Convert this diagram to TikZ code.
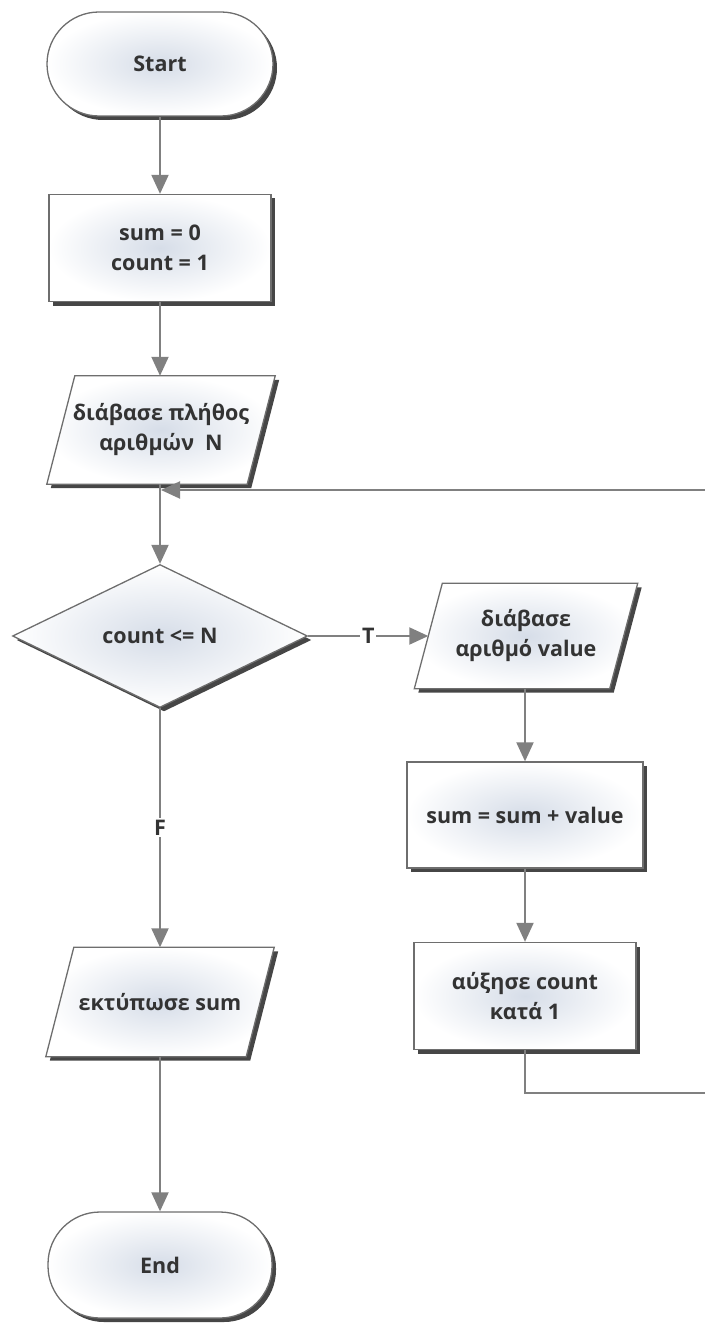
\documentclass[tikz,border=0pt]{standalone}
\usepackage{fontspec}
\setmainfont{Open Sans}
\usetikzlibrary{shapes.geometric,arrows.meta,shadows,backgrounds}

\definecolor{edge}{HTML}{6E6E6E}
\definecolor{wire}{HTML}{808080}
\definecolor{core}{HTML}{D6DDE8}
\definecolor{ink}{HTML}{333333}

\begin{document}
\begin{tikzpicture}[x=1pt,y=-1pt,
  txt/.style={text=ink, font=\fontsize{21.5}{30}\selectfont\bfseries},
  skin/.style={draw=edge, line width=1.3pt, shading=radial,
    inner color=core, outer color=white,
    drop shadow={shadow xshift=4pt, shadow yshift=-4pt,
      fill=black!85, opacity=0.85}},
  base/.style={txt, skin, align=center, inner sep=0pt},
  terminal/.style={base, rectangle, rounded corners=52pt,
    minimum width=226pt, minimum height=104pt},
  process/.style={base, rectangle, minimum height=107pt},
  % text holder of a data box; its slanted outline is drawn behind it
  io/.style={txt, align=center, inner sep=0pt, rectangle,
    minimum width=200pt, minimum height=108pt},
  decision/.style={base, diamond, aspect=2.06,
    minimum width=295pt, minimum height=143pt},
  wireline/.style={draw=wire, line width=2pt},
  flow/.style={wireline, -{Triangle[length=19pt,width=17pt]}},
  lbl/.style={txt, fill=white, inner sep=2pt}
]
  \useasboundingbox (0,0) rectangle (704,1324);

  % nodes
  \node[terminal] (start) at (160,64) {Start};
  \node[process, minimum width=222pt] (init) at (160,248) {sum = 0\\count = 1};
  \node[io] (readn) at (161,430) {διάβασε πλήθος\\αριθμών~~N};
  \node[decision] (dec) at (160,636) {count <= N};
  \node[io, minimum width=195pt, minimum height=105pt] (val) at (526,636) {διάβασε\\αριθμό value};
  \node[process, minimum width=236pt, minimum height=106pt] (add) at (525,815) {sum = sum + value};
  \node[process, minimum width=222pt] (inc) at (525,996) {αύξησε count\\κατά 1};
  \node[io, minimum height=109pt] (prt) at (160,1002) {εκτύπωσε sum};
  \node[terminal, minimum width=224pt, minimum height=106pt] (end) at (160,1265) {End};

  % slanted outlines of the data boxes
  \begin{scope}[on background layer]
    \foreach \n in {readn,val,prt}
      \path[skin] ([xshift=14pt]\n.north west) -- ([xshift=14pt]\n.north east)
        -- ([xshift=-14pt]\n.south east) -- ([xshift=-14pt]\n.south west) -- cycle;
  \end{scope}

  % loop-back route
  \coordinate (join) at (161,490);
  \coordinate (down) at (525,1093);
  \coordinate (farbot) at (707,1093);
  \coordinate (fartop) at (707,490);

  % connectors
  \draw[flow] (start) -- (init);
  \draw[flow] (init) -- (readn.north -| start);
  \draw[flow] (readn.south -| start) -- (dec);
  \draw[flow] (dec) -- node[lbl] {T} (val);
  \draw[flow] (val.south -| add) -- (add);
  \draw[flow] (add) -- (inc);
  \draw[flow] (dec) -- node[lbl] {F} (prt.north -| dec);
  \draw[flow] (prt.south -| dec) -- (end);
  \draw[wireline] (inc) -- (down) -- (farbot) -- (fartop);
  \draw[flow] (fartop) -- (join);
\end{tikzpicture}
\end{document}
